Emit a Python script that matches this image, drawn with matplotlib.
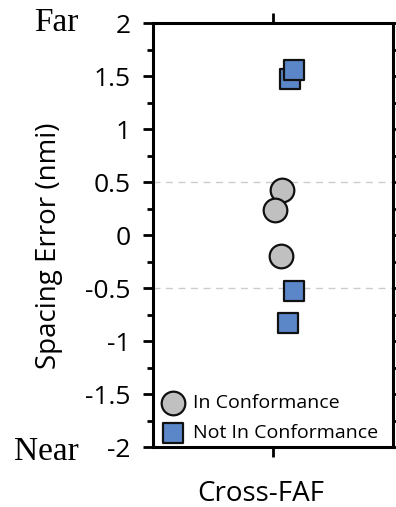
import matplotlib
matplotlib.use("Agg")
import matplotlib.pyplot as plt
from matplotlib.ticker import MultipleLocator

plt.rcParams['font.family'] = ['Open Sans', 'DejaVu Sans']

category = "Cross-FAF"
in_conf_x = [0.08, 0.02, 0.07]
in_conf_y = [0.42, 0.24, -0.20]
not_conf_x = [0.14, 0.18, 0.18, 0.13]
not_conf_y = [1.47, 1.56, -0.53, -0.83]
yticks = [-2, -1.5, -1, -0.5, 0, 0.5, 1, 1.5, 2]
ytick_labels = ["-2", "-1.5", "-1", "-0.5", "0", "0.5", "1", "1.5", "2"]
ref_lines = [0.5, -0.5]

fig = plt.figure(figsize=(3.96, 5.07), dpi=100)
ax = fig.add_axes([0.386, 0.1183, 0.606, 0.8363])

for y in ref_lines:
    ax.axhline(y, color='#cccccc', lw=1.0, ls=(0, (5, 4)), zorder=1)

ax.scatter(in_conf_x, in_conf_y, s=290, marker='o', facecolor='#c0c0c0',
           edgecolor='#111111', linewidth=1.6, zorder=3, label='In Conformance')
ax.scatter(not_conf_x, not_conf_y, s=200, marker='s', facecolor='#5b87c9',
           edgecolor='#111111', linewidth=1.6, zorder=3, label='Not In Conformance')

ax.set_xlim(-1, 1)
ax.set_ylim(-2, 2)
ax.set_xticks([0])
ax.set_xticklabels([""])
ax.annotate(category, xy=(0, 0), xycoords=('data', 'axes fraction'),
            xytext=(-9, -23.5), textcoords='offset points',
            ha='center', va='top', fontsize=20)
ax.set_yticks(yticks)
ax.set_yticklabels(ytick_labels, fontsize=19)
ax.yaxis.set_minor_locator(MultipleLocator(0.25))

for s in ax.spines.values():
    s.set_linewidth(2.2)
ax.tick_params(axis='y', which='major', direction='out', length=7, width=2.0,
               right=True, labelright=False, pad=9)
ax.tick_params(axis='y', which='minor', direction='out', length=4, width=2.0,
               right=True)
ax.tick_params(axis='x', which='major', direction='out', length=7, width=2.0,
               top=True)

ax.set_ylabel("Spacing Error (nmi)", fontsize=20)
ax.yaxis.set_label_coords(-0.375, 0.475)

fig.text(0.086, 0.955, "Far", family='Liberation Serif', fontsize=24,
         ha='left', va='center')
fig.text(0.036, 0.108, "Near", family='Liberation Serif', fontsize=24,
         ha='left', va='center')

leg = ax.legend(loc='lower left', frameon=False, fontsize=14,
                handletextpad=0.25, borderaxespad=0.0, labelspacing=0.6,
                handlelength=1.55, borderpad=0.25)

fig.savefig("out.png", dpi=100)
